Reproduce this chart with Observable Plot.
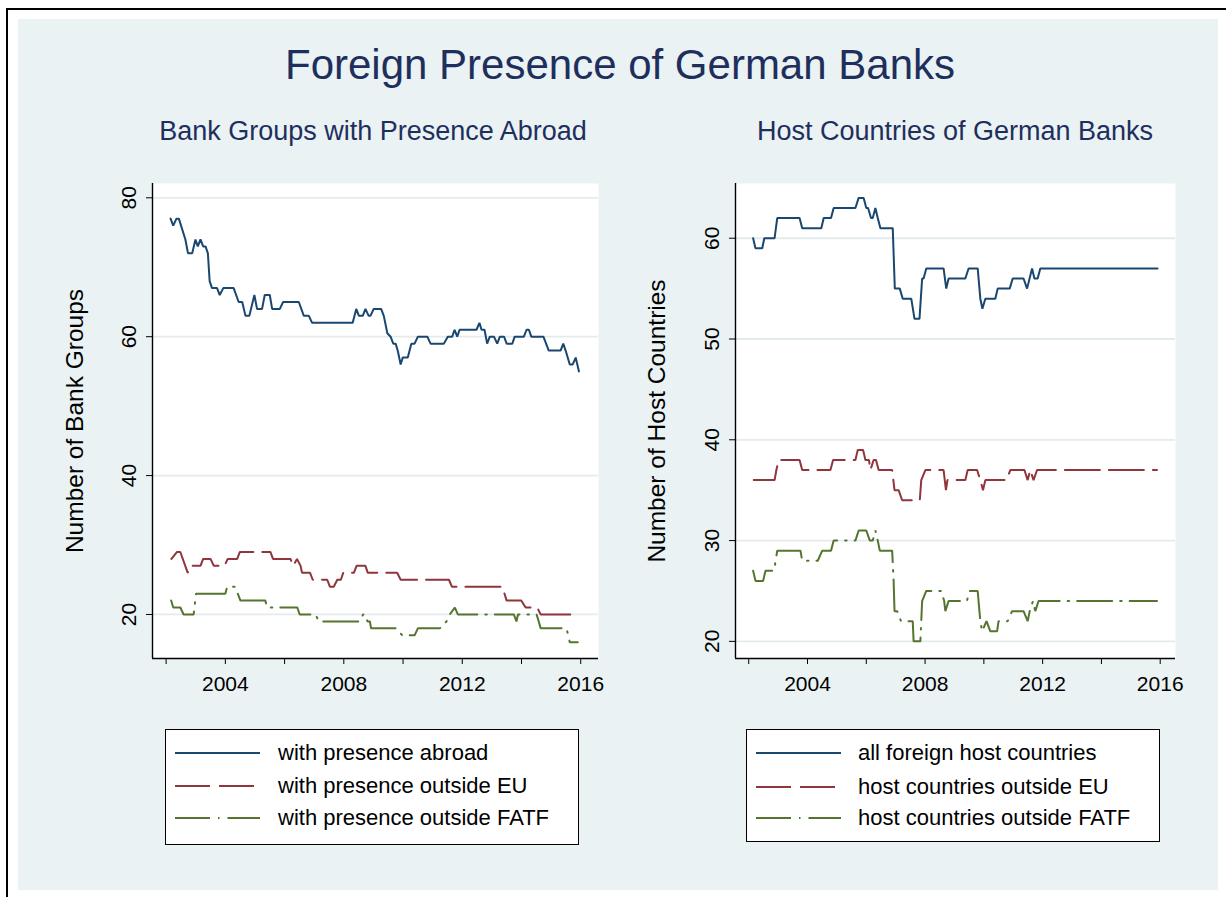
<!DOCTYPE html>
<html><head><meta charset="utf-8">
<script src="https://cdn.jsdelivr.net/npm/d3@7"></script>
<script src="https://cdn.jsdelivr.net/npm/@observablehq/plot@0.6"></script>
<style>
body{margin:0;background:#fff;overflow:hidden;font-family:"Liberation Sans",Arial,Helvetica,sans-serif;}
#wrap{position:relative;width:1226px;height:897px;overflow:hidden;}
#frame{position:absolute;left:6px;top:8px;width:1240px;height:920px;border:2px solid #000;box-sizing:border-box;}
#bg{position:absolute;left:18px;top:19px;width:1200px;height:871px;background:#eaf2f3;}
.ttl{position:absolute;color:#1e2f5e;text-align:center;white-space:nowrap;line-height:1;}
.plot{position:absolute;left:0;top:0;}
.legend{position:absolute;background:#fff;border:1px solid #000;box-sizing:border-box;}
.legend .row{position:absolute;left:0;height:30px;line-height:30px;font-size:22px;color:#000;white-space:nowrap;}
.legend svg{position:absolute;top:0;}
</style>
</head><body>
<div id="wrap">
  <div id="frame"></div>
  <div id="bg"></div>
  <div class="ttl" style="left:20px;width:1200px;top:44px;font-size:42px;">Foreign Presence of German Banks</div>
  <div class="ttl" style="left:73px;width:600px;top:118px;font-size:27px;">Bank Groups with Presence Abroad</div>
  <div class="ttl" style="left:655px;width:600px;top:118px;font-size:27px;">Host Countries of German Banks</div>
</div>
<script>
// ---------- Data (decimal years, monthly data) ----------
// Left panel: number of bank groups
const groupsAbroadX = [2002.15,2002.24,2002.35,2002.43,2002.65,2002.74,2002.88,2002.99,2003.07,2003.16,2003.25,2003.33,2003.41,2003.47,2003.55,2003.72,2003.81,2003.93,2004.28,2004.45,2004.57,2004.68,2004.81,2004.98,2005.07,2005.24,2005.33,2005.50,2005.58,2005.84,2005.95,2006.48,2006.65,2006.82,2006.93,2008.30,2008.42,2008.51,2008.64,2008.73,2008.84,2008.90,2009.01,2009.26,2009.35,2009.47,2009.58,2009.67,2009.75,2009.82,2009.92,2009.99,2010.16,2010.28,2010.39,2010.50,2010.82,2010.93,2011.38,2011.51,2011.66,2011.74,2011.83,2011.91,2012.48,2012.58,2012.65,2012.75,2012.84,2012.93,2013.07,2013.18,2013.27,2013.41,2013.50,2013.69,2013.77,2014.08,2014.17,2014.25,2014.33,2014.74,2014.92,2015.32,2015.41,2015.49,2015.63,2015.73,2015.83,2015.94];
const groupsAbroadY = [77,76,77,77,74,72,72,74,73,74,73,73,72,68,67,67,66,67,67,65,65,63,63,66,64,64,66,66,64,64,65,65,63,63,62,62,64,63,63,64,63,63,64,64,63,60.5,60,59,59,58,56,57,57,59,59,60,60,59,59,60,60,61,60,61,61,62,61,61,59,60,60,59,60,60,59,59,60,60,61,61,60,60,58,58,59,58,56,56,57,55];

const groupsNonEUX = [2002.18,2002.37,2002.48,2002.73,2002.82,2003.16,2003.25,2003.50,2003.61,2003.97,2004.08,2004.40,2004.49,2005.52,2005.61,2006.20,2006.29,2006.42,2006.54,2006.59,2006.86,2006.95,2007.44,2007.53,2007.66,2007.78,2007.90,2007.98,2008.34,2008.43,2008.73,2008.81,2009.80,2009.92,2011.55,2011.65,2013.35,2013.50,2013.99,2014.14,2014.53,2014.65,2015.91];
const groupsNonEUY = [28,29,29,26,27,27,28,28,27,27,28,28,29,29,28,28,27,28,27,26,26,25,25,24,24,25,25,26,26,27,27,26,26,25,25,24,24,22,22,21,21,20,20];

const groupsNonFATFX = [2002.17,2002.24,2002.48,2002.59,2002.93,2003.01,2004.00,2004.06,2004.32,2004.42,2004.51,2005.35,2005.41,2006.43,2006.51,2007.05,2007.15,2008.54,2008.65,2008.72,2008.80,2008.88,2008.92,2009.78,2009.97,2010.39,2010.50,2011.24,2011.47,2011.58,2011.75,2011.85,2013.74,2013.83,2013.88,2014.51,2014.65,2015.52,2015.63,2015.90];
const groupsNonFATFY = [22,21,21,20,20,23,23,24,24,23,22,22,21,21,20,20,19,19,20,20,19,19,18,18,17,17,18,18,19,20,21,20,20,19,20,20,18,18,16,16];

// Right panel: number of host countries
const hostAllX = [2002.15,2002.23,2002.46,2002.53,2002.88,2002.97,2003.73,2003.82,2004.47,2004.55,2004.80,2004.89,2005.63,2005.74,2005.91,2006.00,2006.06,2006.16,2006.22,2006.31,2006.39,2006.48,2006.90,2006.97,2007.14,2007.24,2007.53,2007.64,2007.81,2007.90,2007.95,2008.04,2008.63,2008.72,2008.80,2009.37,2009.48,2009.79,2009.88,2009.95,2010.05,2010.39,2010.47,2010.88,2010.98,2011.35,2011.47,2011.64,2011.72,2011.83,2011.92,2015.91];
const hostAllY = [60,59,59,60,60,62,62,61,61,62,62,63,63,64,64,63,63,62,62,63,62,61,61,55,55,54,54,52,52,56,56,57,57,55,56,56,57,57,54,53,54,54,55,55,56,56,55,57,56,56,57,57];

const hostNonEUX = [2002.17,2002.88,2002.94,2003.02,2003.73,2003.82,2004.78,2004.87,2005.63,2005.71,2005.89,2005.97,2006.09,2006.14,2006.25,2006.33,2006.42,2006.88,2006.96,2007.10,2007.22,2007.82,2007.87,2008.01,2008.63,2008.71,2008.76,2009.37,2009.45,2009.77,2009.88,2009.97,2010.05,2010.77,2010.90,2011.38,2011.49,2011.58,2011.69,2011.81,2015.89];
const hostNonEUY = [36,36,37,38,38,37,37,38,38,39,39,38,38,37,38,38,37,37,35,35,34,34,36,37,37,35,36,36,37,37,36,35,36,36,37,37,36,37,36,37,37];

const hostNonFATFX = [2002.15,2002.23,2002.49,2002.57,2002.86,2002.97,2003.76,2003.82,2004.35,2004.50,2004.80,2004.89,2005.63,2005.74,2006.00,2006.12,2006.22,2006.31,2006.39,2006.46,2006.88,2006.93,2006.96,2007.05,2007.18,2007.58,2007.61,2007.84,2007.90,2008.04,2008.55,2008.65,2008.69,2008.80,2009.42,2009.52,2009.79,2009.88,2009.94,2010.09,2010.22,2010.45,2010.50,2010.81,2010.96,2011.35,2011.49,2011.56,2011.67,2011.75,2011.86,2015.89];
const hostNonFATFY = [27,26,26,27,27,29,29,28,28,29,29,30,30,31,31,30,30,31,30,29,29,26,23,23,22,22,20,20,24,25,25,24,23,24,24,25,25,22,21,22,21,21,22,22,23,23,22,23,24,23,24,24];

const leftYTicks = [20,40,60,80];
const rightYTicks = [20,30,40,50,60];
const xTicks = [2002,2004,2006,2008,2010,2012,2014,2016];

const leftNames = ["with presence abroad","with presence outside EU","with presence outside FATF"];
const rightNames = ["all foreign host countries","host countries outside EU","host countries outside FATF"];

// ---------- Styles ----------
const colors = ["#1a476f","#90353b","#55752f"];
const dashes = [null,"35,9","35,8,1.5,8"];
const GRID = "#e3ebee";
const FONT = '"Liberation Sans", Arial, Helvetica, sans-serif';

function rows(xs, ys){ return xs.map((x,i)=>({x, y: ys[i]})); }

function panel({series, xDomain, yDomain, yTicks, yTitle, mLeft, mRight, titleDx, tickDx}){
  const marks = [
    Plot.frame({fill:"white", stroke:null}),
    Plot.ruleY(yTicks, {stroke: GRID, strokeWidth: 1.8}),
  ];
  series.forEach((s,i)=>{
    marks.push(Plot.line(s, {x:"x", y:"y", stroke: colors[i], strokeWidth: 2, strokeDasharray: dashes[i], strokeLinejoin:"miter", curve:"linear"}));
  });
  marks.push(
    Plot.ruleX([xDomain[0]], {stroke:"#000", strokeWidth:1.4}),
    Plot.ruleY([yDomain[0]], {stroke:"#000", strokeWidth:1.4}),
    Plot.axisX({ticks: xTicks, tickSize: 6, tickPadding: 12, tickFormat: d => d % 4 === 0 ? String(d) : "", fontSize: 21, label: null, stroke:"#000"}),
    Plot.axisY({ticks: yTicks, tickSize: 6, tickFormat: () => "", label: null, stroke:"#000"}),
    Plot.text(yTicks, {y: d=>d, frameAnchor:"left", dx: tickDx, rotate: -90, text: d=>String(d), fontSize: 21, fill:"#000", textAnchor:"middle"}),
    Plot.text([yTitle], {frameAnchor:"left", dx: titleDx, rotate: -90, text: d=>d, fontSize: 24.5, fill:"#000", textAnchor:"middle"})
  );
  return Plot.plot({
    width: 1226, height: 720,
    marginLeft: mLeft, marginRight: mRight, marginTop: 183, marginBottom: 62,
    style: {background:"transparent", fontFamily: FONT, color:"#000", overflow:"visible"},
    x: {domain: xDomain, axis: null},
    y: {domain: yDomain, axis: null},
    marks
  });
}

const wrap = document.getElementById("wrap");

const left = panel({
  series: [rows(groupsAbroadX, groupsAbroadY), rows(groupsNonEUX, groupsNonEUY), rows(groupsNonFATFX, groupsNonFATFY)],
  xDomain: [2001.54, 2016.6], yDomain: [13.66, 82.06], yTicks: leftYTicks,
  yTitle: "Number of Bank Groups", mLeft: 152, mRight: 1226-598, titleDx: -77, tickDx: -23
});
left.classList.add("plot");
wrap.appendChild(left);

const right = panel({
  series: [rows(hostAllX, hostAllY), rows(hostNonEUX, hostNonEUY), rows(hostNonFATFX, hostNonFATFY)],
  xDomain: [2001.55, 2016.52], yDomain: [18.3, 65.43], yTicks: rightYTicks,
  yTitle: "Number of Host Countries", mLeft: 735, mRight: 1226-1175, titleDx: -78, tickDx: -23
});
right.classList.add("plot");
wrap.appendChild(right);

// ---------- Legends ----------
function legend(names, left, top, width, height, lineX, textX, rowYs){
  const box = document.createElement("div");
  box.className = "legend";
  Object.assign(box.style, {left: left+"px", top: top+"px", width: width+"px", height: height+"px"});
  names.forEach((n,i)=>{
    const row = document.createElement("div");
    row.className = "row";
    row.style.top = (rowYs[i] - top - 15) + "px";
    row.style.width = width + "px";
    const svg = document.createElementNS("http://www.w3.org/2000/svg","svg");
    svg.setAttribute("width", 90); svg.setAttribute("height", 30);
    svg.style.left = (lineX - left - 1) + "px";
    const ln = document.createElementNS("http://www.w3.org/2000/svg","line");
    ln.setAttribute("x1",0); ln.setAttribute("x2",85); ln.setAttribute("y1",15); ln.setAttribute("y2",15);
    ln.setAttribute("stroke", colors[i]); ln.setAttribute("stroke-width", 2);
    if (dashes[i]) ln.setAttribute("stroke-dasharray", dashes[i]);
    svg.appendChild(ln);
    row.appendChild(svg);
    const t = document.createElement("span");
    t.textContent = n;
    t.style.position = "absolute";
    t.style.left = (textX - left - 1) + "px";
    row.appendChild(t);
    box.appendChild(row);
  });
  wrap.appendChild(box);
}
legend(leftNames, 165, 729, 414, 116, 175, 278, [752,785,817]);
legend(rightNames, 746, 729, 414, 113, 756, 858, [752,786,817]);
</script>
</body></html>
